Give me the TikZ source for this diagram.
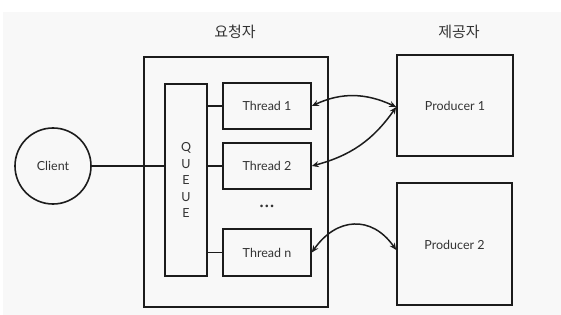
\documentclass[tikz,border=0pt]{standalone}
\usepackage{fontspec}
\setmainfont{Lato}
\newfontfamily\krfont{Noto Sans CJK KR}
\definecolor{bgray}{HTML}{F8F8F8}
\definecolor{ink}{HTML}{1C1C1C}
\definecolor{txt}{HTML}{333333}
\usetikzlibrary{arrows.meta,positioning}

\begin{document}
\begin{tikzpicture}[x=1pt,y=-1pt,
    box/.style={draw=ink,line width=1.6pt,fill=bgray,rectangle,inner sep=0pt,text=txt,font=\fontsize{12.5}{16.5}\selectfont,align=center},
    hdr/.style={font=\krfont\fontsize{15}{18}\selectfont,text=txt},
    wire/.style={draw=ink,line width=1.6pt},
    link/.style={draw=ink,line width=1.5pt,{Stealth[length=7pt,width=6pt]}-{Stealth[length=7pt,width=6pt]}}
  ]
  \useasboundingbox (0,0) rectangle (561,315);
  \fill[bgray] (3,12) rectangle (561,315);
  % headers
  \node[hdr] (reqlbl) at (235,32) {요청자};
  \node[hdr] (prvlbl) at (459,32) {제공자};
  % requester side
  \node[box,circle,minimum size=76pt] (client) at (53,166) {Client};
  \node[box,minimum width=184pt,minimum height=250pt] (req) at (236,182) {};
  \node[box,minimum width=42pt,minimum height=192pt] (queue) at (186,180) {Q\\U\\E\\U\\E};
  \node[box,minimum width=88pt,minimum height=46pt] (t1) at (267,106) {Thread 1};
  \node[box,minimum width=88pt,minimum height=46pt] (t2) at (267,166) {Thread 2};
  \node[text=txt,font=\fontsize{7}{8}\selectfont,inner sep=0pt] (dots) at (267,207) {\textbullet\,\textbullet\,\textbullet};
  \node[box,minimum width=88pt,minimum height=47pt] (tn) at (267,252.5) {Thread n};
  % provider side
  \node[box,minimum width=116pt,minimum height=101pt] (p1) at (455,105.5) {Producer 1};
  \node[box,minimum width=115pt,minimum height=122pt] (p2) at (454.5,244) {};
  \node[text=txt,font=\fontsize{12.5}{14}\selectfont] (p2txt) at (454.5,245) {Producer 2};
  % wires
  \draw[wire] (client) -- (client -| queue.west);
  \draw[wire] (t1.west) -- (t1.west -| queue.east);
  \draw[wire] (t2.west) -- (t2.west -| queue.east);
  \draw[wire] (tn.west) -- (tn.west -| queue.east);
  % calls
  \draw[link] (t1.east) to[out=25,in=155] ([yshift=-1.5pt]p1.west);
  \draw[link] (t2.east) to[out=15,in=235] ([yshift=-1.5pt]p1.west);
  \draw[link] (tn.east) to[out=55,in=125,looseness=1.3] ([yshift=-6pt]p2.west);
\end{tikzpicture}
\end{document}
